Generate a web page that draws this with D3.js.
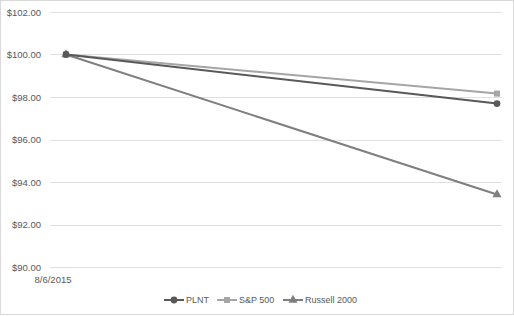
<!DOCTYPE html>
<html>
<head>
<meta charset="utf-8">
<script src="https://cdn.jsdelivr.net/npm/d3@7"></script>
<style>
  body { margin: 0; background: #fff; }
  text { font-family: 'Liberation Sans', Arial, sans-serif; fill: #595959; }
</style>
</head>
<body>
<div class="canvas"></div>
<script>
// Data
const dates = ['8/6/2015', '']
const seriesNames = ['PLNT', 'S&P 500', 'Russell 2000']
const plnt = [100.00, 97.69]
const sp500 = [100.00, 98.16]
const russell = [100.00, 93.41]
const yTicks = [90, 92, 94, 96, 98, 100, 102]

const width = 514
const height = 316

const svg = d3.select('.canvas')
  .append('svg')
    .attr('width', width)
    .attr('height', height)

// Chart border
svg.append('rect')
  .attr('x', 0.5)
  .attr('y', 0.5)
  .attr('width', 513)
  .attr('height', 314)
  .attr('fill', 'none')
  .attr('stroke', '#d9d9d9')

// Scales
const y = d3.scaleLinear()
  .domain([90, 102])
  .range([267, 12])

const x = d3.scalePoint()
  .domain(d3.range(dates.length))
  .range([66, 497])

// Gridlines
svg.append('g')
  .selectAll('line')
  .data(yTicks)
  .enter()
  .append('line')
    .attr('x1', 50)
    .attr('x2', 502)
    .attr('y1', d => Math.round(y(d)) + 0.5)
    .attr('y2', d => Math.round(y(d)) + 0.5)
    .attr('stroke', '#e0e0e0')
    .attr('stroke-width', 1)

// Y axis labels
const yAxis = d3.axisLeft(y)
  .tickValues(yTicks)
  .tickFormat(d => '$' + d3.format('.2f')(d))
  .tickSize(0)
  .tickPadding(0)

const yAxisGroup = svg.append('g')
  .attr('transform', 'translate(41,0)')
  .call(yAxis)
yAxisGroup.select('.domain').remove()
yAxisGroup.selectAll('text')
  .attr('font-size', 9.5)
  .attr('font-family', "'Liberation Sans', Arial, sans-serif")
  .attr('fill', '#595959')

// X axis label (only the first date is shown)
svg.append('text')
  .attr('x', 53)
  .attr('y', 280)
  .attr('dy', '0.35em')
  .attr('text-anchor', 'middle')
  .attr('font-size', 9.5)
  .text(dates[0])

// Series
const series = [
  { name: seriesNames[0], values: plnt, color: '#595959', marker: 'circle' },
  { name: seriesNames[1], values: sp500, color: '#a5a5a5', marker: 'square' },
  { name: seriesNames[2], values: russell, color: '#7f7f7f', marker: 'triangle' }
]

const symbolFor = m => {
  if (m === 'circle') return d3.symbol().type(d3.symbolCircle).size(36)
  if (m === 'square') return d3.symbol().type(d3.symbolSquare).size(36)
  return d3.symbol().type(d3.symbolTriangle).size(36)
}

const line = d3.line()
  .x((d, i) => x(i))
  .y(d => y(d))

// Draw in reverse so PLNT sits on top
series.slice().reverse().forEach(s => {
  svg.append('path')
    .datum(s.values)
    .attr('d', line)
    .attr('fill', 'none')
    .attr('stroke', s.color)
    .attr('stroke-width', 2)

  svg.selectAll(null)
    .data(s.values)
    .enter()
    .append('path')
      .attr('d', symbolFor(s.marker))
      .attr('transform', (d, i) => `translate(${x(i)},${y(d)})`)
      .attr('fill', s.color)
})

// Legend
const legendX = [164, 217, 283]
const legend = svg.append('g')
  .attr('transform', 'translate(0,300)')

series.forEach((s, i) => {
  const g = legend.append('g')
    .attr('transform', `translate(${legendX[i]},0)`)
  g.append('line')
    .attr('x1', 0)
    .attr('x2', 20)
    .attr('stroke', s.color)
    .attr('stroke-width', 2)
  g.append('path')
    .attr('d', symbolFor(s.marker))
    .attr('transform', 'translate(10,0)')
    .attr('fill', s.color)
  g.append('text')
    .attr('x', 22)
    .attr('dy', '0.35em')
    .attr('font-size', 9)
    .text(s.name)
})
</script>
</body>
</html>
